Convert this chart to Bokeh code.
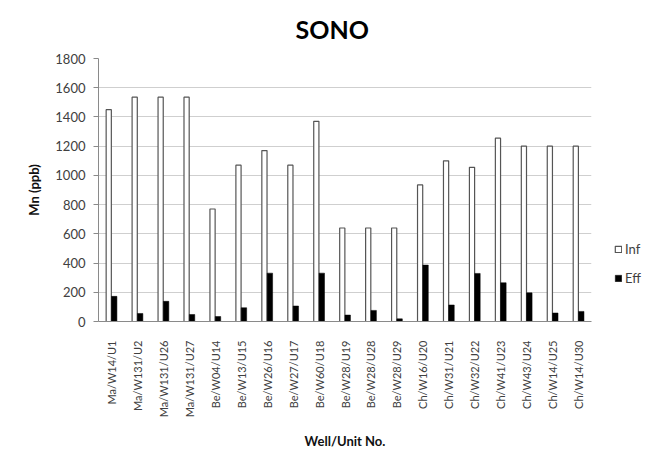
from bokeh.plotting import figure
from bokeh.models import FactorRange, Legend, LegendItem, ColumnDataSource
from bokeh.transform import dodge
from bokeh.embed import file_html
from bokeh.resources import INLINE
import math

categories = ["Ma/W14/U1", "Ma/W131/U2", "Ma/W131/U26", "Ma/W131/U27", "Be/W04/U14",
              "Be/W13/U15", "Be/W26/U16", "Be/W27/U17", "Be/W60/U18", "Be/W28/U19",
              "Be/W28/U28", "Be/W28/U29", "Ch/W16/U20", "Ch/W31/U21", "Ch/W32/U22",
              "Ch/W41/U23", "Ch/W43/U24", "Ch/W14/U25", "Ch/W14/U30"]
inf_values = [1450, 1535, 1535, 1535, 770, 1070, 1170, 1070, 1370, 640,
              640, 640, 935, 1100, 1055, 1255, 1200, 1200, 1200]
eff_values = [172, 55, 138, 48, 34, 94, 331, 106, 331, 44,
              76, 18, 386, 113, 329, 265, 196, 58, 69]
y_ticks = [0, 200, 400, 600, 800, 1000, 1200, 1400, 1600, 1800]

src = ColumnDataSource(dict(cat=categories, inf=inf_values, eff=eff_values))

FONT = "Lato"

p = figure(x_range=FactorRange(*categories, range_padding=0), y_range=(0, 1800),
           frame_width=493, frame_height=263, output_backend="svg", toolbar_location=None,
           min_border_left=98, min_border_right=40, min_border_top=52, min_border_bottom=126,
           title="SONO")

p.title.align = "left"
p.title.offset = 197
p.title.standoff = 26
p.title.vertical_align = "top"
p.title.text_line_height = 0.8
p.title.text_font = FONT
p.title.text_font_size = "25px"
p.title.text_font_style = "bold"
p.title.text_color = "#000000"

r_inf = p.vbar(x=dodge("cat", -0.105, range=p.x_range), top="inf", width=0.2, source=src,
               fill_color="white", line_color="#555555", line_width=1.2)
r_eff = p.vbar(x=dodge("cat", 0.105, range=p.x_range), top="eff", width=0.21, source=src,
               fill_color="black", line_color="black", line_width=0.5)

p.outline_line_color = None
p.background_fill_color = "white"
p.xgrid.grid_line_color = None
p.ygrid.grid_line_color = "#cfcfcf"
p.ygrid.grid_line_width = 1

p.yaxis.ticker = y_ticks
p.yaxis.axis_label = "Mn (ppb)"
p.yaxis.axis_label_text_font = FONT
p.yaxis.axis_label_text_font_style = "bold"
p.yaxis.axis_label_text_font_size = "13px"
p.yaxis.axis_label_text_color = "#111111"
p.yaxis.axis_label_standoff = 10
p.yaxis.major_label_text_font = FONT
p.yaxis.major_label_text_font_size = "13px"
p.yaxis.major_label_text_color = "#404040"
p.yaxis.axis_line_color = "#8a8a8a"
p.yaxis.major_tick_line_color = "#8a8a8a"
p.yaxis.major_tick_out = 5
p.yaxis.major_tick_in = 0
p.yaxis.minor_tick_line_color = None
p.yaxis.major_label_standoff = 8

p.xaxis.axis_label = "Well/Unit No."
p.xaxis.axis_label_text_font = FONT
p.xaxis.axis_label_text_font_style = "bold"
p.xaxis.axis_label_text_font_size = "13px"
p.xaxis.axis_label_text_color = "#111111"
p.xaxis.axis_label_standoff = 13
p.xaxis.major_label_orientation = math.pi / 2
p.xaxis.major_label_text_font = FONT
p.xaxis.major_label_text_font_size = "11px"
p.xaxis.major_label_text_color = "#404040"
p.xaxis.axis_line_color = "#8a8a8a"
p.xaxis.major_tick_line_color = None
p.xaxis.major_label_standoff = 13

legend = Legend(items=[LegendItem(label="Inf", renderers=[r_inf]),
                       LegendItem(label="Eff", renderers=[r_eff])],
                location=(23, 33), orientation="vertical")
legend.padding = 0
legend.margin = 0
legend.border_line_color = None
legend.background_fill_alpha = 0
legend.glyph_width = 8
legend.glyph_height = 8
legend.label_height = 20
legend.spacing = 9
legend.label_standoff = 3
legend.label_text_font = FONT
legend.label_text_font_size = "13px"
legend.label_text_color = "#404040"
p.add_layout(legend, "right")

open("out.html", "w").write(file_html(p, INLINE))
